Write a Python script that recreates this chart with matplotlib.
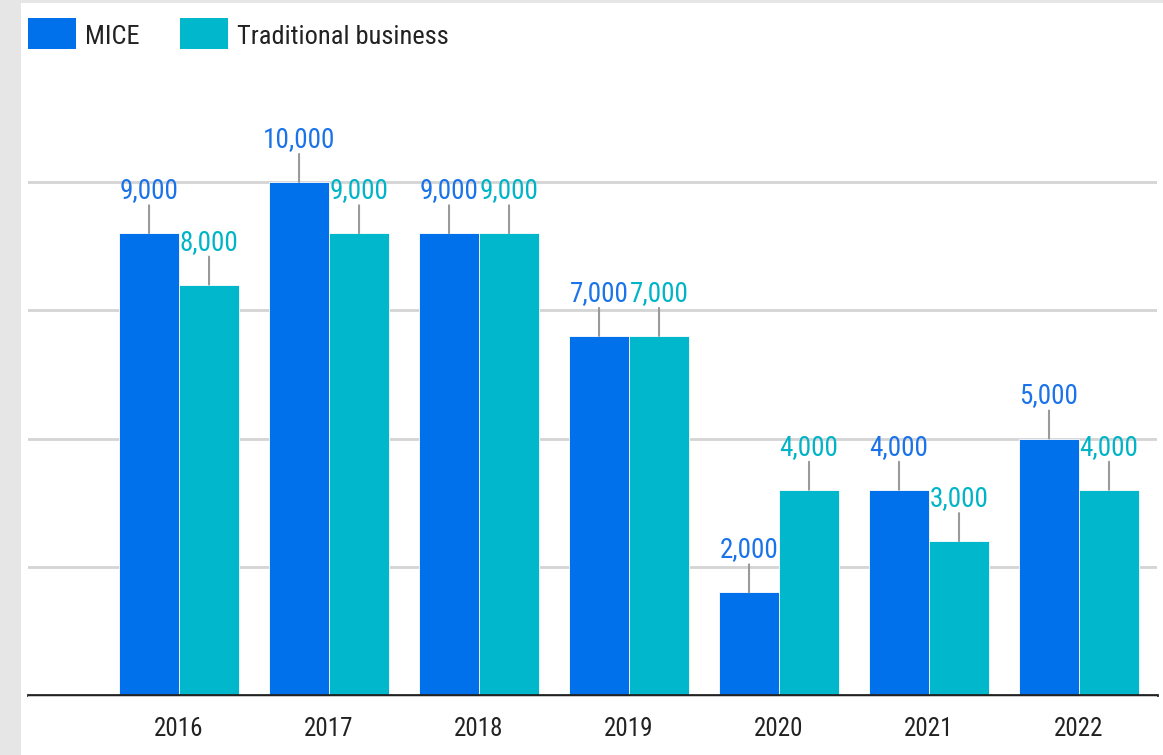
import matplotlib
matplotlib.use("Agg")
import matplotlib.pyplot as plt
from matplotlib import font_manager
from matplotlib.patches import Rectangle
import numpy as np

# Chart data
years = ["2016", "2017", "2018", "2019", "2020", "2021", "2022"]
mice = [9000, 10000, 9000, 7000, 2000, 4000, 5000]
traditional = [8000, 9000, 9000, 7000, 4000, 3000, 4000]
series_names = ["MICE", "Traditional business"]

# Pick a narrow sans family when one is available
installed = {f.name for f in font_manager.fontManager.ttflist}
family = next((f for f in ["Roboto Condensed", "Liberation Sans Narrow", "Roboto"]
               if f in installed), "DejaVu Sans")
plt.rcParams["font.family"] = [family, "DejaVu Sans"]

W, H = 1163, 755
MICE_COLOR = "#0070eb"
TRAD_COLOR = "#00b7cb"
MICE_TEXT = "#1a73e8"
TRAD_TEXT = "#00b4c8"
TEXT_DARK = "#222222"

fig = plt.figure(figsize=(W / 100, H / 100), dpi=100)
fig.patch.set_facecolor("#e6e6e6")
fig.add_artist(Rectangle((21 / W, 0), 1 - 21 / W, 1 - 3 / H, transform=fig.transFigure,
                         facecolor="white", edgecolor="none", zorder=0))

ax = fig.add_axes([28 / W, 1 - 695 / H, (1157 - 28) / W, (695 - 70) / H])
ax.set_facecolor("none")
ax.set_xlim(-1.007, 6.52)
ax.set_ylim(0, 10000 * (695 - 70) / (695 - 182))

x = np.arange(len(years))
width = 0.395
offset = 0.2

ax.bar(x - offset, mice, width, color=MICE_COLOR, edgecolor="white", linewidth=0.6, zorder=2)
ax.bar(x + offset, traditional, width, color=TRAD_COLOR, edgecolor="white", linewidth=0.6, zorder=2)

# Value labels with short leader lines
px = 72 / 100
for values, shift, tcolor in [(mice, -offset, MICE_TEXT), (traditional, offset, TRAD_TEXT)]:
    for xi, v in zip(x, values):
        xc = xi + shift
        ax.annotate("", xy=(xc, v), xytext=(0, 28 * px), textcoords="offset points",
                    arrowprops=dict(arrowstyle="-", color="#9a9a9a", lw=1.5,
                                    shrinkA=0, shrinkB=0), zorder=3)
        ax.annotate(f"{v:,}", xy=(xc, v), xytext=(0, 35 * px), textcoords="offset points",
                    ha="center", va="baseline", color=tcolor, fontsize=19.5, zorder=3)

# Grid and axes styling
ax.set_yticks([2500, 5000, 7500, 10000])
ax.yaxis.grid(True, color="#d4d4d4", linewidth=2)
ax.set_axisbelow(True)
ax.tick_params(axis="y", left=False, labelleft=False)
for side in ["top", "right", "left"]:
    ax.spines[side].set_visible(False)
ax.spines["bottom"].set_color(TEXT_DARK)
ax.spines["bottom"].set_linewidth(2)
ax.spines["bottom"].set_zorder(4)
# soft shadow just below the baseline
fig.add_artist(Rectangle((28 / W, 1 - 697 / H), (1157 - 28) / W, 1.2 / H,
                         transform=fig.transFigure, facecolor="#c8c8c8",
                         edgecolor="none", zorder=1))

ax.set_xticks(x, years)
ax.tick_params(axis="x", length=0, pad=16, labelsize=18, labelcolor=TEXT_DARK)

# Legend drawn at the top-left corner
for (x0, name, color) in [(28, series_names[0], MICE_COLOR), (180, series_names[1], TRAD_COLOR)]:
    fig.add_artist(Rectangle((x0 / W, 1 - 49 / H), 48 / W, 31 / H, transform=fig.transFigure,
                             facecolor=color, edgecolor="none", zorder=5))
    fig.text((x0 + 57) / W, 1 - 34 / H, name, ha="left", va="center_baseline",
             fontsize=19, color=TEXT_DARK)

fig.savefig("out.png", dpi=100, facecolor=fig.get_facecolor())
